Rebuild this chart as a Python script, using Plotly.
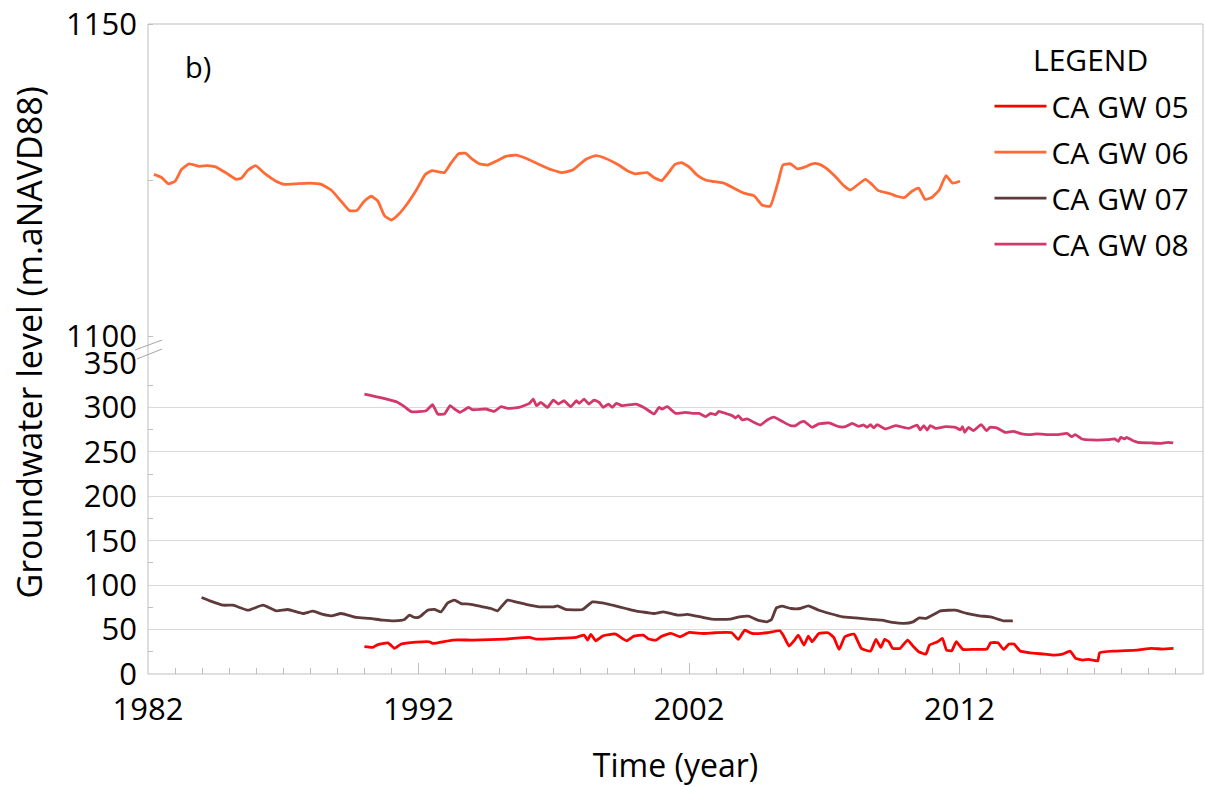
import plotly.graph_objects as go

# ---- data: groundwater levels (m above NAVD88) by decimal year ----
gw05_year = [1990.0, 1990.31, 1990.46, 1990.87, 1991.11, 1991.36, 1991.91, 1992.4, 1992.52, 1993.26,
             1994.0, 1995.23, 1996.1, 1996.34, 1997.08, 1997.82, 1998.12, 1998.25, 1998.37, 1998.55,
             1998.8, 1999.17, 1999.29, 1999.69, 1999.96, 2000.31, 2000.51, 2000.78, 2000.99, 2001.33,
             2001.67, 2002.01, 2002.49, 2002.97, 2003.58, 2003.82, 2004.06, 2004.33, 2004.88, 2005.36,
             2005.5, 2005.7, 2005.9, 2006.04, 2006.25, 2006.41, 2006.55, 2006.8, 2007.14, 2007.35,
             2007.55, 2007.76, 2008.1, 2008.37, 2008.71, 2008.91, 2009.09, 2009.23, 2009.39, 2009.53,
             2009.8, 2010.08, 2010.28, 2010.49, 2010.76, 2010.89, 2011.19, 2011.37, 2011.52, 2011.71,
             2011.88, 2012.12, 2012.53, 2013.01, 2013.15, 2013.42, 2013.63, 2013.83, 2014.01, 2014.24,
             2014.58, 2015.13, 2015.47, 2015.81, 2016.09, 2016.29, 2016.56, 2016.77, 2017.11, 2017.18,
             2017.73, 2018.55, 2019.09, 2019.5, 2019.91]
gw05_level = [30.7, 29.9, 32.5, 35.1, 28.8, 33.7, 35.9, 36.3, 34.4, 38.2,
              38.2, 39.3, 41.2, 39.3, 40.0, 41.2, 43.8, 38.2, 44.6, 37.4,
              42.6, 44.9, 44.9, 37.4, 42.6, 43.8, 39.3, 38.2, 42.6, 45.6,
              41.9, 46.8, 45.6, 46.4, 46.4, 38.9, 49.4, 45.6, 46.4, 48.6,
              42.6, 31.4, 38.2, 43.8, 32.5, 42.6, 36.3, 45.6, 46.4, 41.2,
              27.7, 41.9, 44.9, 28.8, 25.8, 38.9, 29.9, 38.9, 36.3, 28.8,
              28.8, 38.2, 31.4, 25.0, 22.4, 32.5, 36.3, 40.0, 26.9, 26.1,
              36.3, 27.7, 27.7, 28.1, 35.1, 35.1, 27.7, 33.7, 33.7, 25.8,
              23.9, 22.4, 21.3, 22.4, 25.8, 17.6, 15.7, 16.5, 14.9, 23.9,
              25.8, 26.9, 28.8, 28.1, 28.8]

gw06_year = [1982.22, 1982.5, 1982.75, 1983.0, 1983.24, 1983.52, 1983.9, 1984.2, 1984.5, 1984.9,
             1985.27, 1985.45, 1985.7, 1985.98, 1986.3, 1986.7, 1987.05, 1987.48, 1987.97, 1988.4,
             1988.77, 1989.14, 1989.45, 1989.72, 1989.97, 1990.25, 1990.5, 1990.74, 1990.99, 1991.24,
             1991.55, 1991.92, 1992.25, 1992.5, 1992.96, 1993.2, 1993.48, 1993.73, 1994.0, 1994.25,
             1994.55, 1994.86, 1995.23, 1995.6, 1995.97, 1996.46, 1996.95, 1997.3, 1997.7, 1998.18,
             1998.55, 1998.9, 1999.4, 1999.72, 2000.03, 2000.46, 2000.7, 2000.99, 2001.23, 2001.48,
             2001.72, 2002.0, 2002.3, 2002.61, 2002.86, 2003.29, 2003.66, 2004.03, 2004.4, 2004.7,
             2005.0, 2005.3, 2005.47, 2005.75, 2006.0, 2006.3, 2006.55, 2006.77, 2007.04, 2007.4,
             2007.72, 2007.96, 2008.52, 2008.76, 2009.0, 2009.44, 2009.68, 2009.97, 2010.24, 2010.49,
             2010.73, 2010.97, 2011.25, 2011.5, 2011.74, 2012.02]
gw06_level = [1125.9, 1125.4, 1124.4, 1124.8, 1126.7, 1127.6, 1127.2, 1127.3, 1127.1, 1126.1,
              1125.1, 1125.3, 1126.6, 1127.3, 1126.1, 1124.9, 1124.3, 1124.4, 1124.5, 1124.3,
              1123.4, 1121.6, 1120.1, 1120.1, 1121.5, 1122.4, 1121.6, 1119.3, 1118.6, 1119.4,
              1121.0, 1123.4, 1125.9, 1126.5, 1126.2, 1127.7, 1129.2, 1129.3, 1128.3, 1127.6,
              1127.4, 1128.0, 1128.8, 1129.0, 1128.5, 1127.5, 1126.6, 1126.2, 1126.6, 1128.3,
              1128.9, 1128.5, 1127.4, 1126.5, 1126.0, 1126.2, 1125.4, 1124.9, 1126.1, 1127.5,
              1127.8, 1127.1, 1125.8, 1125.0, 1124.8, 1124.5, 1123.7, 1122.9, 1122.5, 1121.0,
              1120.8, 1124.8, 1127.4, 1127.6, 1126.8, 1127.1, 1127.6, 1127.6, 1127.0, 1125.6,
              1124.1, 1123.4, 1125.1, 1124.3, 1123.3, 1122.8, 1122.4, 1122.2, 1123.2, 1123.7,
              1121.9, 1122.2, 1123.4, 1125.7, 1124.5, 1124.8]

gw07_year = [1983.98, 1984.29, 1984.78, 1985.14, 1985.7, 1986.25, 1986.74, 1987.17, 1987.73, 1988.1,
             1988.47, 1988.77, 1989.14, 1989.7, 1990.19, 1990.68, 1991.11, 1991.48, 1991.66, 1991.85,
             1992.04, 1992.34, 1992.59, 1992.83, 1993.08, 1993.33, 1993.57, 1993.88, 1994.37, 1994.68,
             1994.92, 1995.11, 1995.29, 1995.6, 1996.1, 1996.46, 1997.01, 1997.14, 1997.44, 1998.06,
             1998.43, 1998.8, 1999.17, 1999.66, 2000.09, 2000.44, 2000.71, 2001.05, 2001.6, 2001.94,
             2002.29, 2002.83, 2003.51, 2003.86, 2004.2, 2004.54, 2004.88, 2005.05, 2005.23, 2005.43,
             2005.77, 2006.11, 2006.41, 2006.8, 2007.2, 2007.68, 2008.16, 2008.71, 2009.12, 2009.53,
             2009.94, 2010.28, 2010.51, 2010.76, 2011.3, 2011.85, 2012.26, 2012.74, 2013.15, 2013.63,
             2013.97]
gw07_level = [86.1, 82.3, 77.4, 77.4, 71.8, 77.4, 71.1, 72.6, 68.1, 70.7,
              67.0, 65.4, 68.1, 63.6, 62.5, 60.6, 59.8, 61.4, 66.2, 63.6,
              64.3, 71.8, 72.6, 69.9, 80.0, 83.1, 79.3, 78.6, 75.6, 73.7,
              71.1, 77.4, 83.1, 81.2, 77.4, 75.6, 75.6, 76.7, 72.6, 72.6,
              81.2, 80.0, 77.4, 73.7, 70.5, 69.2, 68.1, 69.9, 66.2, 67.0,
              65.1, 61.7, 61.7, 64.3, 65.1, 60.6, 58.7, 61.4, 74.4, 76.3,
              73.7, 73.7, 76.7, 71.8, 68.1, 64.3, 63.2, 61.4, 60.6, 58.0,
              56.9, 58.7, 63.2, 62.5, 71.1, 71.8, 68.1, 65.4, 64.3, 59.8,
              59.8]

gw08_year = [1990.0, 1990.56, 1991.24, 1991.48, 1991.73, 1992.28, 1992.52, 1992.71, 1992.96, 1993.17,
             1993.33, 1993.54, 1993.69, 1993.85, 1994.0, 1994.49, 1994.8, 1995.05, 1995.29, 1995.72,
             1996.1, 1996.24, 1996.36, 1996.52, 1996.77, 1996.98, 1997.17, 1997.38, 1997.63, 1997.84,
             1997.94, 1998.12, 1998.3, 1998.49, 1998.68, 1998.83, 1999.02, 1999.17, 1999.31, 1999.53,
             2000.03, 2000.33, 2000.71, 2000.89, 2001.0, 2001.2, 2001.5, 2001.87, 2002.12, 2002.37,
             2002.61, 2002.8, 2002.98, 2003.1, 2003.35, 2003.6, 2003.72, 2003.82, 2003.97, 2004.15,
             2004.4, 2004.64, 2004.89, 2005.14, 2005.44, 2005.75, 2005.94, 2006.12, 2006.25, 2006.55,
             2006.8, 2007.17, 2007.54, 2007.78, 2008.03, 2008.27, 2008.46, 2008.58, 2008.71, 2008.83,
             2008.95, 2009.26, 2009.63, 2010.12, 2010.43, 2010.55, 2010.68, 2010.8, 2010.92, 2011.11,
             2011.48, 2011.85, 2012.03, 2012.11, 2012.19, 2012.33, 2012.51, 2012.8, 2013.0, 2013.13,
             2013.37, 2013.68, 2013.99, 2014.3, 2014.55, 2014.85, 2015.29, 2015.66, 2015.97, 2016.15,
             2016.28, 2016.52, 2016.89, 2017.5, 2017.74, 2017.87, 2017.96, 2018.11, 2018.17, 2018.36,
             2018.6, 2019.09, 2019.46, 2019.71, 2019.9]
gw08_level = [315.0, 311.2, 305.6, 300.8, 295.2, 296.3, 303.0, 292.6, 292.6, 301.9,
              298.2, 294.4, 297.1, 300.0, 297.4, 298.2, 295.5, 300.8, 298.9, 300.0,
              304.5, 309.4, 301.9, 305.6, 300.0, 308.3, 303.8, 307.5, 300.8, 307.5,
              304.5, 309.4, 303.8, 308.3, 305.6, 300.0, 303.8, 300.0, 304.5, 301.9,
              303.8, 300.0, 292.6, 300.0, 298.2, 300.8, 293.3, 294.4, 293.3, 293.3,
              289.6, 293.3, 291.8, 295.5, 293.3, 290.7, 288.1, 290.7, 285.9, 287.0,
              283.2, 280.2, 285.9, 289.0, 284.3, 279.5, 279.5, 283.2, 284.3, 277.6,
              281.4, 282.5, 278.3, 278.3, 282.0, 278.7, 280.2, 277.6, 280.6, 276.9,
              280.6, 275.8, 279.5, 276.4, 280.2, 274.6, 279.5, 274.6, 279.5, 276.4,
              278.3, 277.6, 274.6, 278.3, 272.0, 277.6, 273.8, 280.6, 273.8, 277.6,
              276.9, 272.0, 273.1, 270.1, 269.4, 270.1, 269.4, 269.4, 270.8, 267.1,
              269.4, 264.5, 263.4, 263.7, 264.5, 261.9, 266.3, 264.5, 266.3, 263.4,
              260.7, 260.0, 259.6, 260.7, 260.0]

series = [
    ("CA GW 05", gw05_year, gw05_level, "#FF0000", "y"),
    ("CA GW 06", gw06_year, gw06_level, "#FF6A35", "y2"),
    ("CA GW 07", gw07_year, gw07_level, "#5E3A3A", "y"),
    ("CA GW 08", gw08_year, gw08_level, "#D2386A", "y"),
]
for name, xs, ys, _, _ in series:
    assert len(xs) == len(ys), name

FONT = "Open Sans"
GRID = "#d9d9d9"
AXIS = "#bfbfbf"

fig = go.Figure()
for i, (name, xs, ys, color, yax) in enumerate(series):
    fig.add_trace(go.Scatter(
        x=xs, y=ys, name=name, mode="lines", yaxis=yax, xaxis="x",
        legendgroup=f"g{i}",
        line=dict(color=color, width=2.8, shape="spline", smoothing=0.4),
    ))

# split plotting area: lower panel 0-350, upper panel 1100-1150
low_top = 0.4785
high_bottom = 0.5199

fig.update_layout(
    width=1205, height=787,
    margin=dict(l=148, r=2, t=22, b=113),
    paper_bgcolor="white", plot_bgcolor="white",
    font=dict(family=FONT, color="black", size=30),
    showlegend=True,
    legend=dict(
        x=0.7976, y=0.9137, xanchor="left", yanchor="top",
        bgcolor="rgba(0,0,0,0)",
        font=dict(size=30, family=FONT, color="black"),
        itemwidth=52,
        tracegroupgap=4,
    ),
    xaxis=dict(
        range=[1982, 2021], tick0=1982, dtick=10,
        ticks="inside", ticklen=11, tickcolor=AXIS, tickwidth=1,
        showgrid=False, showline=False, zeroline=False,
        tickfont=dict(size=31), ticklabelstandoff=14,
        title=dict(text="Time (year)", font=dict(size=32), standoff=26),
        minor=dict(dtick=1, ticks="inside", ticklen=6, tickcolor=AXIS, showgrid=False),
        anchor="y",
    ),
    yaxis=dict(
        domain=[0, low_top], range=[0, 350], dtick=50,
        showgrid=True, gridcolor=GRID, gridwidth=1, zeroline=False,
        showline=False, ticks="", tickfont=dict(size=31), ticklabelstandoff=10,
        minor=dict(dtick=25, ticks="inside", ticklen=5, tickcolor=AXIS, showgrid=False),
    ),
    yaxis2=dict(
        domain=[high_bottom, 1], range=[1100, 1150], tickvals=[1100, 1150],
        showgrid=True, gridcolor=GRID, gridwidth=1, zeroline=False,
        showline=False, ticks="", tickfont=dict(size=31), ticklabelstandoff=10,
        minor=dict(tick0=1100, dtick=25, ticks="inside", ticklen=5, tickcolor=AXIS, showgrid=False),
        anchor="x",
    ),
)

# frame around the whole plotting area
fig.add_shape(type="rect", xref="paper", yref="paper", x0=0, x1=1, y0=0, y1=1,
              line=dict(color=AXIS, width=1), layer="above")
# axis break marks
fig.add_shape(type="line", xref="paper", yref="paper", x0=-0.0123, y0=0.4985, x1=0.0133, y1=0.5138,
              line=dict(color="#a6a6a6", width=1))
fig.add_shape(type="line", xref="paper", yref="paper", x0=-0.0104, y0=0.4847, x1=0.0133, y1=0.5000,
              line=dict(color="#a6a6a6", width=1))

# shared y-axis title spanning both panels
fig.add_annotation(text="Groundwater level (m.aNAVD88)", xref="paper", yref="paper",
                   x=-0.1128, y=0.51, textangle=-90, showarrow=False,
                   font=dict(size=34, family=FONT), xanchor="center", yanchor="middle")
# panel label
fig.add_annotation(text="b)", xref="paper", yref="paper", x=0.047, y=0.934,
                   showarrow=False, font=dict(size=29, family=FONT),
                   xanchor="center", yanchor="middle")
# legend heading
fig.add_annotation(text="LEGEND", xref="paper", yref="paper", x=0.8938, y=0.946,
                   showarrow=False, font=dict(size=30, family=FONT),
                   xanchor="center", yanchor="middle")

fig.write_html("out.html")
